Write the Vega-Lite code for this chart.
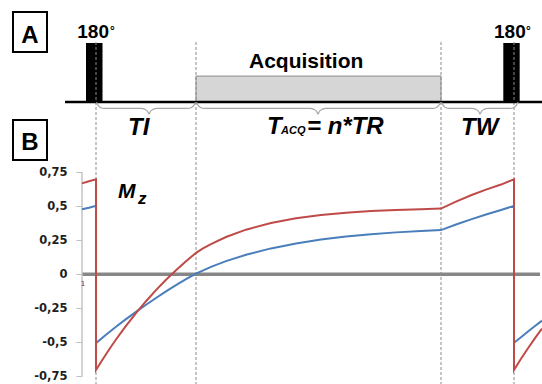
{
  "$schema": "https://vega.github.io/schema/vega-lite/v6.json",
  "width": 460,
  "height": 384,
  "autosize": {"type": "none"},
  "padding": {"left": 82, "top": 0, "right": 0, "bottom": 0},
  "background": "white",
  "config": {"view": {"stroke": null}},
  "datasets": {
    "curves": [
      {"s": "blue", "i": 1, "t": -14, "m": 0.478},
      {"s": "blue", "i": 2, "t": -7, "m": 0.49},
      {"s": "blue", "i": 3, "t": 0, "m": 0.504},
      {"s": "blue", "i": 4, "t": 0, "m": -0.507},
      {"s": "blue", "i": 5, "t": 10, "m": -0.446},
      {"s": "blue", "i": 6, "t": 20, "m": -0.387},
      {"s": "blue", "i": 7, "t": 30, "m": -0.331},
      {"s": "blue", "i": 8, "t": 40, "m": -0.277},
      {"s": "blue", "i": 9, "t": 50, "m": -0.225},
      {"s": "blue", "i": 10, "t": 60, "m": -0.175},
      {"s": "blue", "i": 11, "t": 70, "m": -0.127},
      {"s": "blue", "i": 12, "t": 80, "m": -0.081},
      {"s": "blue", "i": 13, "t": 90, "m": -0.037},
      {"s": "blue", "i": 14, "t": 100, "m": 0.005},
      {"s": "blue", "i": 15, "t": 115, "m": 0.054},
      {"s": "blue", "i": 16, "t": 130, "m": 0.096},
      {"s": "blue", "i": 17, "t": 150, "m": 0.143},
      {"s": "blue", "i": 18, "t": 175, "m": 0.19},
      {"s": "blue", "i": 19, "t": 200, "m": 0.226},
      {"s": "blue", "i": 20, "t": 225, "m": 0.255},
      {"s": "blue", "i": 21, "t": 250, "m": 0.277},
      {"s": "blue", "i": 22, "t": 275, "m": 0.294},
      {"s": "blue", "i": 23, "t": 300, "m": 0.308},
      {"s": "blue", "i": 24, "t": 325, "m": 0.318},
      {"s": "blue", "i": 25, "t": 345, "m": 0.325},
      {"s": "blue", "i": 26, "t": 360, "m": 0.366},
      {"s": "blue", "i": 27, "t": 375, "m": 0.404},
      {"s": "blue", "i": 28, "t": 390, "m": 0.44},
      {"s": "blue", "i": 29, "t": 405, "m": 0.473},
      {"s": "blue", "i": 30, "t": 418, "m": 0.503},
      {"s": "blue", "i": 31, "t": 418, "m": -0.505},
      {"s": "blue", "i": 32, "t": 425, "m": -0.464},
      {"s": "blue", "i": 33, "t": 432, "m": -0.422},
      {"s": "blue", "i": 34, "t": 439, "m": -0.381},
      {"s": "blue", "i": 35, "t": 446, "m": -0.342},
      {"s": "red", "i": 1, "t": -14, "m": 0.669},
      {"s": "red", "i": 2, "t": -7, "m": 0.684},
      {"s": "red", "i": 3, "t": 0, "m": 0.699},
      {"s": "red", "i": 4, "t": 0, "m": -0.705},
      {"s": "red", "i": 5, "t": 5, "m": -0.646},
      {"s": "red", "i": 6, "t": 10, "m": -0.589},
      {"s": "red", "i": 7, "t": 15, "m": -0.534},
      {"s": "red", "i": 8, "t": 20, "m": -0.481},
      {"s": "red", "i": 9, "t": 25, "m": -0.43},
      {"s": "red", "i": 10, "t": 30, "m": -0.38},
      {"s": "red", "i": 11, "t": 40, "m": -0.286},
      {"s": "red", "i": 12, "t": 50, "m": -0.199},
      {"s": "red", "i": 13, "t": 60, "m": -0.117},
      {"s": "red", "i": 14, "t": 70, "m": -0.041},
      {"s": "red", "i": 15, "t": 80, "m": 0.029},
      {"s": "red", "i": 16, "t": 90, "m": 0.095},
      {"s": "red", "i": 17, "t": 100, "m": 0.157},
      {"s": "red", "i": 18, "t": 107, "m": 0.19},
      {"s": "red", "i": 19, "t": 115, "m": 0.222},
      {"s": "red", "i": 20, "t": 130, "m": 0.274},
      {"s": "red", "i": 21, "t": 150, "m": 0.328},
      {"s": "red", "i": 22, "t": 175, "m": 0.377},
      {"s": "red", "i": 23, "t": 200, "m": 0.412},
      {"s": "red", "i": 24, "t": 225, "m": 0.436},
      {"s": "red", "i": 25, "t": 250, "m": 0.453},
      {"s": "red", "i": 26, "t": 275, "m": 0.465},
      {"s": "red", "i": 27, "t": 300, "m": 0.473},
      {"s": "red", "i": 28, "t": 325, "m": 0.479},
      {"s": "red", "i": 29, "t": 345, "m": 0.483},
      {"s": "red", "i": 30, "t": 360, "m": 0.534},
      {"s": "red", "i": 31, "t": 375, "m": 0.581},
      {"s": "red", "i": 32, "t": 390, "m": 0.623},
      {"s": "red", "i": 33, "t": 405, "m": 0.66},
      {"s": "red", "i": 34, "t": 418, "m": 0.699},
      {"s": "red", "i": 35, "t": 418, "m": -0.705},
      {"s": "red", "i": 36, "t": 425, "m": -0.623},
      {"s": "red", "i": 37, "t": 432, "m": -0.545},
      {"s": "red", "i": 38, "t": 439, "m": -0.471},
      {"s": "red", "i": 39, "t": 446, "m": -0.4}
    ],
    "braces": [
      {"b": 1, "i": 1, "t": 0.5, "m": 1.266}, {"b": 1, "i": 2, "t": 2, "m": 1.245}, {"b": 1, "i": 3, "t": 4.5, "m": 1.228}, {"b": 1, "i": 4, "t": 8.5, "m": 1.221}, {"b": 1, "i": 5, "t": 45, "m": 1.221}, {"b": 1, "i": 6, "t": 49, "m": 1.214}, {"b": 1, "i": 7, "t": 51.5, "m": 1.2}, {"b": 1, "i": 8, "t": 53, "m": 1.18}, {"b": 1, "i": 9, "t": 54.5, "m": 1.2}, {"b": 1, "i": 10, "t": 57, "m": 1.214}, {"b": 1, "i": 11, "t": 61, "m": 1.221}, {"b": 1, "i": 12, "t": 91.5, "m": 1.221}, {"b": 1, "i": 13, "t": 95.5, "m": 1.228}, {"b": 1, "i": 14, "t": 98, "m": 1.245}, {"b": 1, "i": 15, "t": 99.5, "m": 1.266},
      {"b": 2, "i": 1, "t": 100.5, "m": 1.266}, {"b": 2, "i": 2, "t": 102, "m": 1.245}, {"b": 2, "i": 3, "t": 104.5, "m": 1.228}, {"b": 2, "i": 4, "t": 108.5, "m": 1.221}, {"b": 2, "i": 5, "t": 214, "m": 1.221}, {"b": 2, "i": 6, "t": 218, "m": 1.214}, {"b": 2, "i": 7, "t": 220.5, "m": 1.2}, {"b": 2, "i": 8, "t": 222, "m": 1.18}, {"b": 2, "i": 9, "t": 223.5, "m": 1.2}, {"b": 2, "i": 10, "t": 226, "m": 1.214}, {"b": 2, "i": 11, "t": 230, "m": 1.221}, {"b": 2, "i": 12, "t": 336.5, "m": 1.221}, {"b": 2, "i": 13, "t": 340.5, "m": 1.228}, {"b": 2, "i": 14, "t": 343, "m": 1.245}, {"b": 2, "i": 15, "t": 344.5, "m": 1.266},
      {"b": 3, "i": 1, "t": 345.5, "m": 1.266}, {"b": 3, "i": 2, "t": 347, "m": 1.245}, {"b": 3, "i": 3, "t": 349.5, "m": 1.228}, {"b": 3, "i": 4, "t": 353.5, "m": 1.221}, {"b": 3, "i": 5, "t": 376, "m": 1.221}, {"b": 3, "i": 6, "t": 380, "m": 1.214}, {"b": 3, "i": 7, "t": 382.5, "m": 1.2}, {"b": 3, "i": 8, "t": 384, "m": 1.18}, {"b": 3, "i": 9, "t": 385.5, "m": 1.2}, {"b": 3, "i": 10, "t": 388, "m": 1.214}, {"b": 3, "i": 11, "t": 392, "m": 1.221}, {"b": 3, "i": 12, "t": 414, "m": 1.221}, {"b": 3, "i": 13, "t": 418, "m": 1.228}, {"b": 3, "i": 14, "t": 420.5, "m": 1.245}, {"b": 3, "i": 15, "t": 422, "m": 1.266}
    ],
    "rects": [
      {"kind": "panelbox", "t": -83, "t2": -49, "m": 1.931, "m2": 1.636},
      {"kind": "panelbox", "t": -83, "t2": -49, "m": 1.135, "m2": 0.841},
      {"kind": "acq", "t": 100, "t2": 345, "m": 1.459, "m2": 1.268},
      {"kind": "pulse", "t": -10, "t2": 6.5, "m": 1.703, "m2": 1.268},
      {"kind": "pulse", "t": 407.3, "t2": 423.7, "m": 1.703, "m2": 1.268}
    ],
    "hrules": [
      {"kind": "base", "t": -31, "t2": 446, "m": 1.268},
      {"kind": "zero", "t": -14, "t2": 444, "m": 0}
    ],
    "vrules": [
      {"kind": "axis", "t": -14, "m": -0.75, "m2": 0.75},
      {"kind": "dash", "t": 0, "m": 1.71, "m2": -0.85},
      {"kind": "dash", "t": 100, "m": 1.71, "m2": -0.85},
      {"kind": "dash", "t": 345, "m": 1.71, "m2": -0.85},
      {"kind": "dash", "t": 418, "m": 1.71, "m2": -0.85}
    ],
    "texts": [
      {"kind": "panel", "label": "A", "t": -66, "m": 1.699},
      {"kind": "panel", "label": "B", "t": -66, "m": 0.917},
      {"kind": "deg", "label": "180", "t": -18.7, "m": 1.742},
      {"kind": "deg", "label": "180", "t": 398, "m": 1.742},
      {"kind": "degsign", "label": "°", "t": 14, "m": 1.761},
      {"kind": "degsign", "label": "°", "t": 430, "m": 1.761},
      {"kind": "acq", "label": "Acquisition", "t": 153, "m": 1.521},
      {"kind": "time", "label": "TI", "t": 32, "m": 1.025},
      {"kind": "time", "label": "T", "t": 171, "m": 1.032},
      {"kind": "sub", "label": "ACQ", "t": 185, "m": 1.032},
      {"kind": "time", "label": "= n*TR", "t": 211, "m": 1.032},
      {"kind": "time", "label": "TW", "t": 365, "m": 1.025},
      {"kind": "mz", "label": "M", "t": 22, "m": 0.561},
      {"kind": "mzsub", "label": "z", "t": 42, "m": 0.514},
      {"kind": "one", "label": "1", "t": -13, "m": -0.087}
    ]
  },
  "encoding": {
    "x": {"field": "t", "type": "quantitative", "scale": {"domain": [-14, 446], "nice": false, "zero": false}, "axis": null},
    "y": {"field": "m", "type": "quantitative", "scale": {"domain": [-0.8085, 2.0191], "nice": false, "zero": false},
      "axis": {"orient": "left", "values": [-0.75, -0.5, -0.25, 0, 0.25, 0.5, 0.75], "domain": false, "grid": false, "ticks": true, "tickSize": 6, "tickColor": "#bfbfbf", "tickWidth": 1, "labelFont": "DejaVu Sans", "labelFontWeight": "bold", "labelFontSize": 11.5, "labelColor": "#1f1f1f", "labelPadding": 9, "labelOverlap": false, "labelBound": false, "labelExpr": "(datum.value < 0 ? '-' : '') + replace(toString(abs(datum.value)), '.', ',')", "title": null}}
  },
  "layer": [
    {
      "data": {"name": "rects"},
      "transform": [{"filter": "datum.kind === 'panelbox'"}],
      "mark": {"type": "rect", "fill": "white", "stroke": "black", "strokeWidth": 2},
      "encoding": {"x2": {"field": "t2"}, "y2": {"field": "m2"}}
    },
    {
      "data": {"name": "rects"},
      "transform": [{"filter": "datum.kind === 'acq'"}],
      "mark": {"type": "rect", "fill": "#d6d6d6", "stroke": "#8c8c8c", "strokeWidth": 1},
      "encoding": {"x2": {"field": "t2"}, "y2": {"field": "m2"}}
    },
    {
      "data": {"name": "hrules"},
      "transform": [{"filter": "datum.kind === 'zero'"}],
      "mark": {"type": "rule", "color": "#878787", "strokeWidth": 3.5},
      "encoding": {"x2": {"field": "t2"}}
    },
    {
      "data": {"name": "vrules"},
      "transform": [{"filter": "datum.kind === 'axis'"}],
      "mark": {"type": "rule", "color": "#c4c4c4", "strokeWidth": 1.5},
      "encoding": {"y2": {"field": "m2"}}
    },
    {
      "data": {"name": "rects"},
      "transform": [{"filter": "datum.kind === 'pulse'"}],
      "mark": {"type": "rect", "fill": "black"},
      "encoding": {"x2": {"field": "t2"}, "y2": {"field": "m2"}}
    },
    {
      "data": {"name": "vrules"},
      "transform": [{"filter": "datum.kind === 'dash'"}],
      "mark": {"type": "rule", "color": "#8a8a8a", "strokeWidth": 1, "strokeDash": [3, 2]},
      "encoding": {"y2": {"field": "m2"}}
    },
    {
      "data": {"name": "hrules"},
      "transform": [{"filter": "datum.kind === 'base'"}],
      "mark": {"type": "rule", "color": "black", "strokeWidth": 2.5},
      "encoding": {"x2": {"field": "t2"}}
    },
    {
      "data": {"name": "braces"},
      "mark": {"type": "line", "color": "#a6a6a6", "strokeWidth": 1.2, "interpolate": "monotone"},
      "encoding": {
        "detail": {"field": "b", "type": "nominal"},
        "order": {"field": "i", "type": "quantitative"}
      }
    },
    {
      "data": {"name": "curves"},
      "transform": [{"filter": "datum.s === 'blue'"}],
      "mark": {"type": "line", "color": "#4a7ebb", "strokeWidth": 2},
      "encoding": {"order": {"field": "i", "type": "quantitative"}}
    },
    {
      "data": {"name": "curves"},
      "transform": [{"filter": "datum.s === 'red'"}],
      "mark": {"type": "line", "color": "#be4b48", "strokeWidth": 2},
      "encoding": {"order": {"field": "i", "type": "quantitative"}}
    },
    {
      "data": {"name": "texts"},
      "transform": [{"filter": "datum.kind === 'panel'"}],
      "mark": {"type": "text", "font": "Liberation Sans", "fontWeight": "bold", "fontSize": 24, "align": "center", "baseline": "alphabetic", "color": "black"},
      "encoding": {"text": {"field": "label"}}
    },
    {
      "data": {"name": "texts"},
      "transform": [{"filter": "datum.kind === 'deg'"}],
      "mark": {"type": "text", "font": "Liberation Sans", "fontWeight": "bold", "fontSize": 19, "align": "left", "baseline": "alphabetic", "color": "black"},
      "encoding": {"text": {"field": "label"}}
    },
    {
      "data": {"name": "texts"},
      "transform": [{"filter": "datum.kind === 'degsign'"}],
      "mark": {"type": "text", "font": "Liberation Sans", "fontWeight": "bold", "fontSize": 12, "align": "left", "baseline": "alphabetic", "color": "black"},
      "encoding": {"text": {"field": "label"}}
    },
    {
      "data": {"name": "texts"},
      "transform": [{"filter": "datum.kind === 'acq'"}],
      "mark": {"type": "text", "font": "Liberation Sans", "fontWeight": "bold", "fontSize": 21, "align": "left", "baseline": "alphabetic", "color": "black"},
      "encoding": {"text": {"field": "label"}}
    },
    {
      "data": {"name": "texts"},
      "transform": [{"filter": "datum.kind === 'time'"}],
      "mark": {"type": "text", "font": "Liberation Sans", "fontWeight": "bold", "fontStyle": "italic", "fontSize": 24, "align": "left", "baseline": "alphabetic", "color": "black"},
      "encoding": {"text": {"field": "label"}}
    },
    {
      "data": {"name": "texts"},
      "transform": [{"filter": "datum.kind === 'sub'"}],
      "mark": {"type": "text", "font": "Liberation Sans", "fontWeight": "bold", "fontStyle": "italic", "fontSize": 11, "align": "left", "baseline": "alphabetic", "color": "black"},
      "encoding": {"text": {"field": "label"}}
    },
    {
      "data": {"name": "texts"},
      "transform": [{"filter": "datum.kind === 'mz'"}],
      "mark": {"type": "text", "font": "Liberation Sans", "fontWeight": "bold", "fontStyle": "italic", "fontSize": 21, "align": "left", "baseline": "alphabetic", "color": "black"},
      "encoding": {"text": {"field": "label"}}
    },
    {
      "data": {"name": "texts"},
      "transform": [{"filter": "datum.kind === 'mzsub'"}],
      "mark": {"type": "text", "font": "Liberation Sans", "fontWeight": "bold", "fontStyle": "italic", "fontSize": 17, "align": "left", "baseline": "alphabetic", "color": "black"},
      "encoding": {"text": {"field": "label"}}
    },
    {
      "data": {"name": "texts"},
      "transform": [{"filter": "datum.kind === 'one'"}],
      "mark": {"type": "text", "font": "DejaVu Sans", "fontSize": 7, "align": "center", "baseline": "alphabetic", "color": "#4b3b6b"},
      "encoding": {"text": {"field": "label"}}
    }
  ]
}
